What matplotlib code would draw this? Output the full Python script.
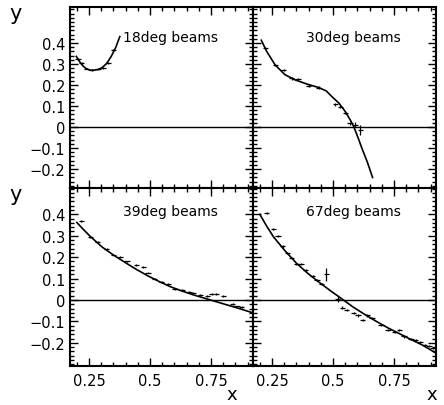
import numpy as np
import matplotlib
matplotlib.use("Agg")
import matplotlib.pyplot as plt
from matplotlib.ticker import MultipleLocator

# ---- data ----
# 18deg beams
x18 = [0.205, 0.220, 0.240, 0.261, 0.287, 0.309, 0.329, 0.349]
y18 = [0.325, 0.304, 0.278, 0.271, 0.274, 0.280, 0.304, 0.365]
c18_x = [0.198, 0.210, 0.224, 0.238, 0.252, 0.266, 0.285, 0.303, 0.322, 0.341, 0.360, 0.376]
c18_y = [0.336, 0.313, 0.292, 0.278, 0.271, 0.270, 0.273, 0.282, 0.302, 0.336, 0.380, 0.430]

# 30deg beams
x30 = [0.223, 0.263, 0.298, 0.331, 0.357, 0.400, 0.441, 0.510, 0.530, 0.550, 0.570, 0.591, 0.612]
y30 = [0.377, 0.295, 0.271, 0.232, 0.229, 0.197, 0.188, 0.108, 0.097, 0.066, 0.019, 0.012, -0.014]
e30 = [0.006, 0.006, 0.006, 0.006, 0.006, 0.006, 0.006, 0.006, 0.006, 0.006, 0.007, 0.014, 0.025]
c30_x = [0.206, 0.228, 0.263, 0.303, 0.345, 0.397, 0.441, 0.472, 0.495, 0.524, 0.550, 0.570,
         0.585, 0.603, 0.618, 0.641, 0.662]
c30_y = [0.413, 0.360, 0.295, 0.249, 0.224, 0.203, 0.188, 0.172, 0.145, 0.114, 0.074, 0.035,
         0.002, -0.052, -0.100, -0.168, -0.240]

# 39deg beams
x39 = [0.219, 0.256, 0.285, 0.322, 0.350, 0.378, 0.406, 0.444, 0.472, 0.491, 0.519, 0.547, 0.575,
       0.603, 0.631, 0.660, 0.678, 0.706, 0.735, 0.753, 0.772, 0.800, 0.838, 0.856, 0.875]
y39 = [0.370, 0.295, 0.270, 0.240, 0.212, 0.200, 0.180, 0.162, 0.155, 0.128, 0.100, 0.085, 0.075,
       0.052, 0.048, 0.038, 0.033, 0.022, 0.018, 0.028, 0.028, 0.020, -0.020, -0.030, -0.032]
c39_x = [0.200, 0.228, 0.256, 0.303, 0.350, 0.397, 0.444, 0.491, 0.538, 0.584, 0.631, 0.678,
         0.725, 0.772, 0.819, 0.866, 0.922]
c39_y = [0.362, 0.328, 0.296, 0.248, 0.210, 0.176, 0.143, 0.113, 0.086, 0.062, 0.042, 0.024,
         0.008, -0.008, -0.024, -0.040, -0.060]

# 67deg beams
x67 = [0.228, 0.256, 0.275, 0.294, 0.313, 0.331, 0.350, 0.369, 0.388, 0.416, 0.435, 0.453, 0.472,
       0.519, 0.538, 0.556, 0.584, 0.603, 0.622, 0.641, 0.660, 0.697, 0.725, 0.753, 0.772, 0.791,
       0.819, 0.838, 0.856, 0.875, 0.894, 0.910]
y67 = [0.405, 0.330, 0.300, 0.250, 0.218, 0.195, 0.170, 0.168, 0.142, 0.112, 0.095, 0.075, 0.120,
       0.005, -0.035, -0.048, -0.062, -0.072, -0.095, -0.072, -0.085, -0.115, -0.138, -0.150,
       -0.138, -0.170, -0.180, -0.188, -0.198, -0.208, -0.215, -0.222]
e67 = [0.005] * 12 + [0.030, 0.015] + [0.005] * 18
c67_x = [0.200, 0.228, 0.256, 0.303, 0.350, 0.397, 0.444, 0.491, 0.538, 0.584, 0.631, 0.678,
         0.725, 0.772, 0.819, 0.866, 0.922]
c67_y = [0.400, 0.345, 0.295, 0.230, 0.172, 0.124, 0.082, 0.042, 0.004, -0.034, -0.068, -0.100,
         -0.130, -0.157, -0.184, -0.210, -0.248]

titles = ["18deg beams", "30deg beams", "39deg beams", "67deg beams"]
xticks = [0.25, 0.5, 0.75]
yticks = [-0.2, -0.1, 0, 0.1, 0.2, 0.3, 0.4]
ytick_labels = ["\u22120.2", "\u22120.1", "0", "0.1", "0.2", "0.3", "0.4"]

plt.rcParams['font.family'] = ['DejaVu Sans']

fig = plt.figure(figsize=(4.44, 4.06), dpi=100)
x0, w = 70 / 444, 183 / 444
y_top, y_mid, y_bot = 1 - 189 / 406, 1 - 367 / 406, 1 - 8 / 406
h_top = y_bot - y_top
h_bot = y_top - y_mid
axes = [
    fig.add_axes([x0, y_top, w, h_top]),
    fig.add_axes([x0 + w, y_top, w, h_top]),
    fig.add_axes([x0, y_mid, w, h_bot]),
    fig.add_axes([x0 + w, y_mid, w, h_bot]),
]

panels = [
    (x18, y18, [0.004] * len(x18), c18_x, c18_y),
    (x30, y30, e30, c30_x, c30_y),
    (x39, y39, [0.004] * len(x39), c39_x, c39_y),
    (x67, y67, e67, c67_x, c67_y),
]
ylims = [(-0.29, 0.571), (-0.29, 0.571), (-0.308, 0.523), (-0.308, 0.523)]

for i, (ax, (px, py, pe, cx, cy)) in enumerate(zip(axes, panels)):
    ax.axhline(0, color='black', lw=1.0, zorder=1)
    ax.errorbar(px, py, xerr=0.011, yerr=pe, fmt='none', ecolor='black', elinewidth=0.9, capsize=0)
    ax.plot(cx, cy, color='black', lw=1.2)
    ty = 0.835 if i < 2 else 0.87
    ax.text(0.81, ty, titles[i], transform=ax.transAxes, ha='right', va='center', fontsize=10)
    ax.set_xlim(0.172, 0.922)
    ax.set_ylim(*ylims[i])
    ax.set_xticks(xticks)
    ax.set_yticks(yticks)
    ax.xaxis.set_minor_locator(MultipleLocator(0.05))
    ax.yaxis.set_minor_locator(MultipleLocator(0.02))
    ax.tick_params(which='both', direction='in', top=True, right=True, width=1.0)
    ax.tick_params(which='major', length=6)
    ax.tick_params(which='minor', length=3)
    for s in ax.spines.values():
        s.set_linewidth(1.5)
    if i % 2 == 0:
        ax.set_yticklabels(ytick_labels, fontsize=10.5)
        ax.text(-0.33, 0.965, "y", transform=ax.transAxes, ha='left', va='center', fontsize=15)
    else:
        ax.set_yticklabels([])
    if i >= 2:
        ax.set_xticklabels(["0.25", "0.5", "0.75"], fontsize=10.5)
        ax.tick_params(axis='x', pad=5)
        ax.text(0.885 if i == 2 else 0.975, -0.16, "x", transform=ax.transAxes,
                ha='center', va='center', fontsize=13)
    else:
        ax.set_xticklabels([])

fig.savefig("out.png", dpi=100)
